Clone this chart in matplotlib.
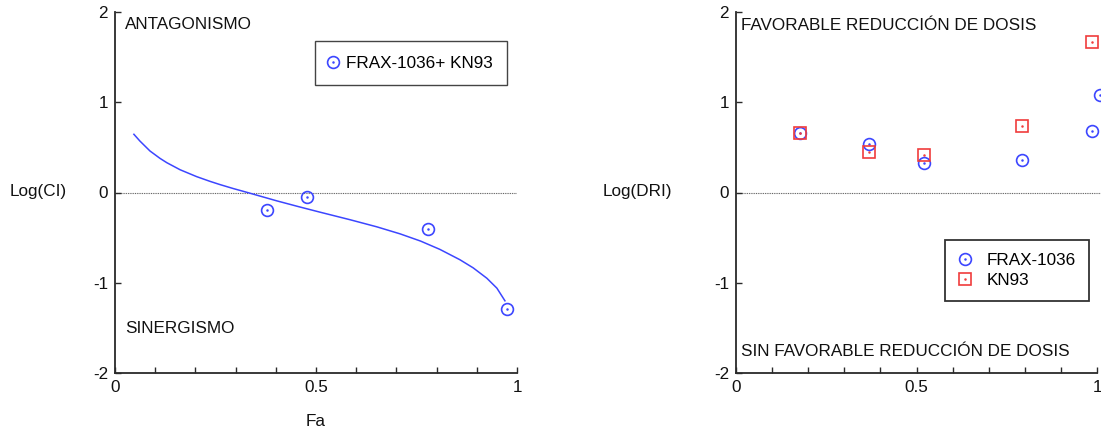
import matplotlib
matplotlib.use("Agg")
import matplotlib.pyplot as plt
from matplotlib.lines import Line2D
from matplotlib.legend_handler import HandlerTuple

plt.rcParams['font.family'] = ['Liberation Sans', 'DejaVu Sans']

# --- Combination index (CI) data ---
fa_ci_points = [0.379, 0.477, 0.779, 0.976]
log_ci_points = [-0.195, -0.055, -0.405, -1.295]

fa_ci_curve = [0.047, 0.062, 0.087, 0.112, 0.129, 0.162, 0.203, 0.236, 0.261,
               0.294, 0.328, 0.361, 0.402, 0.456, 0.510, 0.585, 0.651, 0.709,
               0.760, 0.808, 0.858, 0.891, 0.925, 0.950, 0.970]
log_ci_curve = [0.645, 0.570, 0.460, 0.378, 0.330, 0.252, 0.176, 0.124, 0.088,
                 0.044, 0.002, -0.040, -0.092, -0.156, -0.218, -0.302, -0.380, -0.458,
                 -0.538, -0.630, -0.745, -0.835, -0.950, -1.060, -1.200]

# --- Dose reduction index (DRI) data ---
fa_frax = [0.177, 0.369, 0.522, 0.792, 0.987, 1.008]
log_dri_frax = [0.66, 0.54, 0.325, 0.36, 0.68, 1.08]
fa_kn93 = [0.177, 0.369, 0.522, 0.792, 0.987]
log_dri_kn93 = [0.66, 0.447, 0.42, 0.74, 1.664]

BLUE = '#3c46ff'
RED = '#f03c3c'
AXC = '#2a2a2a'
FS = 12.3

W, H = 1101, 429
fig = plt.figure(figsize=(W / 100, H / 100), dpi=100)


def px_axes(x0, x1, y0, y1):
    return fig.add_axes([x0 / W, 1 - y1 / H, (x1 - x0) / W, (y1 - y0) / H])


def style_axes(ax):
    ax.set_xlim(0, 1)
    ax.set_ylim(-2, 2)
    for s in ('top', 'right'):
        ax.spines[s].set_visible(False)
    for s in ('left', 'bottom'):
        ax.spines[s].set_color(AXC)
        ax.spines[s].set_linewidth(1.3)
    ax.set_xticks([0, 0.5, 1])
    ax.set_xticklabels(['0', '0.5', '1'])
    ax.set_xticks([i / 10 for i in range(11)], minor=True)
    ax.set_yticks([-2, -1, 0, 1, 2])
    ax.set_yticklabels(['-2', '-1', '0', '1', '2'])
    ax.tick_params(which='both', direction='in', length=4, width=1.0,
                   color=AXC, labelsize=FS, labelcolor='#111111', pad=5)
    ax.tick_params(axis='y', which='minor', left=False)
    ax.axhline(0, xmin=0, xmax=1, color='#555555', lw=0.8, ls=(0, (0.8, 0.8)), zorder=1)


def dotted_markers(ax, x, y, marker, color, ms):
    ax.plot(x, y, ls='none', marker=marker, ms=ms, mfc='none', mec=color,
            mew=1.2, clip_on=False, zorder=3)
    ax.plot(x, y, ls='none', marker='.', ms=1.6, color=color, clip_on=False, zorder=3)


def legend_handle(marker, color, ms):
    ring = Line2D([], [], ls='none', marker=marker, ms=ms, mfc='none', mec=color, mew=1.2)
    dot = Line2D([], [], ls='none', marker='.', ms=1.6, color=color)
    return (ring, dot)


# Left panel: Log(CI) vs Fa
ax1 = px_axes(115, 517, 12, 373)
style_axes(ax1)
ax1.plot(fa_ci_curve, log_ci_curve, color=BLUE, lw=1.1, zorder=2)
dotted_markers(ax1, fa_ci_points, log_ci_points, 'o', BLUE, 8.5)
ax1.set_xlabel('Fa', fontsize=FS, labelpad=14, color='#111111')
fig.text(10 / W, 1 - 192 / H, 'Log(CI)', fontsize=FS, va='center', ha='left', color='#111111')
ax1.text(0.025, 1.86, 'ANTAGONISMO', fontsize=FS, va='center', ha='left', color='#111111')
ax1.text(0.025, -1.51, 'SINERGISMO', fontsize=FS, va='center', ha='left', color='#111111')
leg1 = ax1.legend([legend_handle('o', BLUE, 8.5)], ['FRAX-1036+ KN93'],
                  handler_map={tuple: HandlerTuple(ndivide=1, pad=0)},
                  loc='upper left', bbox_to_anchor=(315 / W, 1 - 41 / H),
                  bbox_transform=fig.transFigure, borderaxespad=0, fontsize=FS,
                  borderpad=0.85, handlelength=0.4, handletextpad=0.55,
                  fancybox=False, framealpha=1, edgecolor='#444444')
leg1.get_frame().set_linewidth(1.0)

# Right panel: Log(DRI) vs Fa
ax2 = px_axes(736, 1097, 12, 373)
style_axes(ax2)
ax2.axhline(0, xmin=1, xmax=1.02, color='#555555', lw=0.8, ls=(0, (0.8, 0.8)), clip_on=False)
dotted_markers(ax2, fa_frax, log_dri_frax, 'o', BLUE, 8.5)
dotted_markers(ax2, fa_kn93, log_dri_kn93, 's', RED, 9)
fig.text(603 / W, 1 - 192 / H, 'Log(DRI)', fontsize=FS, va='center', ha='left', color='#111111')
ax2.text(0.014, 1.845, 'FAVORABLE REDUCCIÓN DE DOSIS', fontsize=FS, va='center',
         ha='left', color='#111111')
ax2.text(0.014, -1.76, 'SIN FAVORABLE REDUCCIÓN DE DOSIS', fontsize=FS, va='center',
         ha='left', color='#111111')
leg2 = ax2.legend([legend_handle('o', BLUE, 8.5), legend_handle('s', RED, 9)],
                  ['FRAX-1036', 'KN93'],
                  handler_map={tuple: HandlerTuple(ndivide=1, pad=0)},
                  loc='upper left', bbox_to_anchor=(945 / W, 1 - 240 / H),
                  bbox_transform=fig.transFigure, borderaxespad=0, fontsize=FS,
                  borderpad=0.75, handlelength=0.8, handletextpad=0.9, labelspacing=0.3,
                  fancybox=False, framealpha=1, edgecolor='#333333')
leg2.get_frame().set_linewidth(1.3)

fig.savefig('out.png', dpi=100)
